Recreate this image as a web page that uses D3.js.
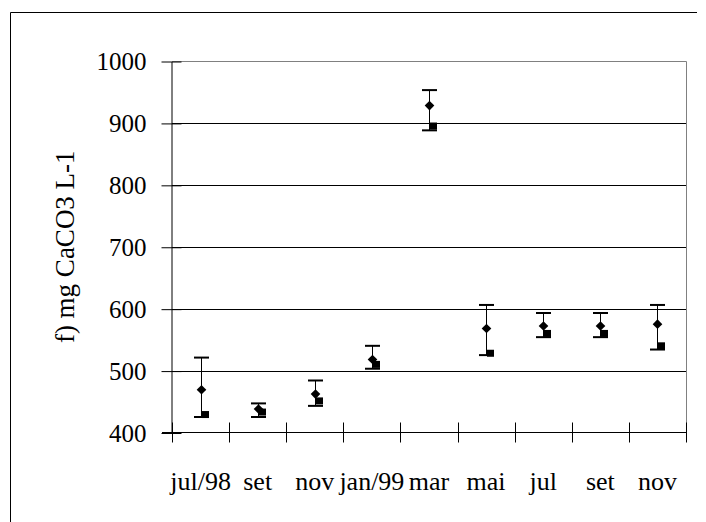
<!DOCTYPE html>
<html>
<head>
<meta charset="utf-8">
<script src="https://cdn.jsdelivr.net/npm/d3@7"></script>
<style>
  body { margin: 0; background: #fff; }
</style>
</head>
<body>
<div id="chart"></div>
<script>
// chart data
var months = ["jul/98", "set", "nov", "jan/99", "mar", "mai", "jul", "set", "nov"];
var meanValues = [469, 438, 462, 518, 928, 568, 572, 572, 575];
var minValues = [429, 433, 451, 510, 895, 528, 560, 560, 540];
var upperValues = [521, 447, 484, 540, 953, 606, 593, 593, 606];
var lowerValues = [425, 425, 443, 503, 888, 525, 554, 554, 534];
var yTicks = [400, 500, 600, 700, 800, 900, 1000];
var yTitle = "f) mg CaCO3 L-1";

(function() {
  var width = 706, height = 522;
  var pLeft = 172, pRight = 686, pTop = 61, pBottom = 432.5;
  var font = "'Liberation Serif', 'Times New Roman', Times, 'DejaVu Serif', serif";

  var svg = d3.select("#chart").append("svg")
    .attr("width", width).attr("height", height)
    .style("font-family", font);

  // outer frame (only top and left edges show)
  svg.append("path")
    .attr("d", "M10.5,522V12.5H697")
    .attr("fill", "none").attr("stroke", "#000").attr("stroke-width", 1);

  var idx = d3.range(months.length);
  var x = d3.scaleBand().domain(idx).range([pLeft, pRight]).padding(0);
  var y = d3.scaleLinear().domain([400, 1000]).range([pBottom, pTop]);

  // gridlines
  svg.append("g").selectAll("line").data(yTicks.slice(1, -1)).enter().append("line")
    .attr("x1", pLeft).attr("x2", pRight)
    .attr("y1", function(d) { return Math.round(y(d)) + 0.5; })
    .attr("y2", function(d) { return Math.round(y(d)) + 0.5; })
    .attr("stroke", "#000").attr("stroke-width", 1);

  // plot border top and right (grey)
  svg.append("path")
    .attr("d", "M" + pLeft + "," + (Math.round(y(1000)) + 0.5) + "H" + (pRight + 0.5) + "V" + pBottom)
    .attr("fill", "none").attr("stroke", "#808080").attr("stroke-width", 1);

  // y axis
  var yAxis = d3.axisLeft(y).tickValues(yTicks).tickFormat(d3.format("d")).tickSize(0).tickPadding(25);
  var gy = svg.append("g").attr("transform", "translate(" + (pLeft - 0.5) + ",0.5)").call(yAxis)
    .attr("font-family", null).attr("font-size", 25);
  gy.select(".domain").attr("stroke", "#000");
  gy.selectAll(".tick line").attr("x1", -10).attr("x2", 10).attr("stroke", "#000");
  gy.selectAll(".tick text").attr("fill", "#000").style("font-family", font);

  // x axis: ticks on category boundaries, labels at centres
  var gx = svg.append("g").attr("transform", "translate(0," + pBottom + ")");
  gx.append("line").attr("x1", pLeft - 10).attr("x2", pRight + 1)
    .attr("stroke", "#000").attr("stroke-width", 1);
  gx.selectAll("line.tk").data(d3.range(months.length + 1)).enter().append("line")
    .attr("class", "tk")
    .attr("x1", function(i) { return Math.round(pLeft + i * x.bandwidth()) + 0.5; })
    .attr("x2", function(i) { return Math.round(pLeft + i * x.bandwidth()) + 0.5; })
    .attr("y1", -10).attr("y2", 10)
    .attr("stroke", "#000");
  gx.selectAll("text").data(idx).enter().append("text")
    .attr("x", function(i) { return x(i) + x.bandwidth() / 2; })
    .attr("y", 490 - pBottom)
    .attr("text-anchor", "middle")
    .attr("font-size", 26)
    .style("font-family", font)
    .text(function(i) { return months[i]; });

  // y title
  svg.append("text")
    .attr("transform", "translate(74," + ((pTop + pBottom) / 2) + ") rotate(-90)")
    .attr("text-anchor", "middle")
    .attr("font-size", 27)
    .style("font-family", font)
    .text(yTitle);

  // error bars
  var cx = function(i) { return Math.round(x(i) + x.bandwidth() / 2) + 0.5; };
  var bars = svg.append("g");
  bars.selectAll("line.v").data(idx).enter().append("line")
    .attr("class", "v")
    .attr("x1", cx).attr("x2", cx)
    .attr("y1", function(i) { return y(upperValues[i]); })
    .attr("y2", function(i) { return y(lowerValues[i]); })
    .attr("stroke", "#000");
  [upperValues, lowerValues].forEach(function(vals) {
    bars.append("g").selectAll("line").data(idx).enter().append("line")
      .attr("x1", function(i) { return cx(i) - 7.5; })
      .attr("x2", function(i) { return cx(i) + 7.5; })
      .attr("y1", function(i) { return y(vals[i]); })
      .attr("y2", function(i) { return y(vals[i]); })
      .attr("stroke", "#000").attr("stroke-width", 2);
  });

  // square markers (second series)
  svg.append("g").selectAll("rect").data(idx).enter().append("rect")
    .attr("x", function(i) { return cx(i) + 4 - 3.5; })
    .attr("y", function(i) { return y(minValues[i]) - 3.5; })
    .attr("width", 7).attr("height", 7)
    .attr("fill", "#000");

  // diamond markers (mean)
  svg.append("g").selectAll("path").data(idx).enter().append("path")
    .attr("d", "M0,-4.8L4.8,0L0,4.8L-4.8,0Z")
    .attr("transform", function(i) { return "translate(" + cx(i) + "," + y(meanValues[i]) + ")"; })
    .attr("fill", "#000");
})();
</script>
</body>
</html>
